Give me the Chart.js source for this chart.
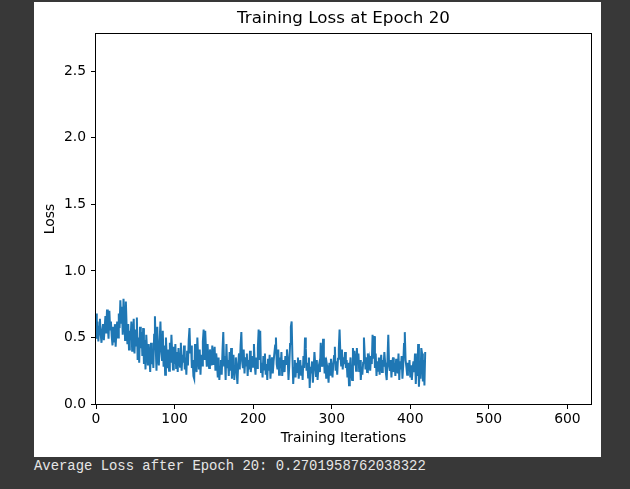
<!DOCTYPE html>
<html>
<head>
<meta charset="utf-8">
<script src="https://cdn.jsdelivr.net/npm/chart.js@4/dist/chart.umd.min.js"></script>
<style>
    body { margin: 0; background: #383838; width: 630px; height: 489px; overflow: hidden; position: relative; }
    #card { position: absolute; left: 34px; top: 2px; width: 567px; height: 455px; background: #fff; }
    #out { position: absolute; left: 34px; top: 458px; margin: 0; font-family: "Liberation Mono", monospace; font-size: 13.9px; line-height: 16px; color: #e6e6e6; white-space: pre; }
</style>
</head>
<body>
<div id="card"><canvas id="loss" width="567" height="455"></canvas></div>
<pre id="out"></pre>
<script>
var chartTitle = 'Training Loss at Epoch 20';
var xTitle = 'Training Iterations';
var yTitle = 'Loss';
var outputLine = 'Average Loss after Epoch 20: 0.2701958762038322';
var xMax = 630;
var yMax = 2.78;
var xStep = 100;
var yStep = 0.5;

// loss per iteration (iterations 0..419)
var lossValues = [
    0.68,0.49,0.62,0.47,0.58,0.64,0.52,0.46,0.55,0.60,0.48,0.57,0.66,0.53,0.71,0.58,0.49,0.70,0.56,0.62,
    0.51,0.44,0.58,0.47,0.60,0.43,0.55,0.62,0.50,0.68,0.57,0.78,0.61,0.73,0.52,0.79,0.66,0.48,0.77,0.58,
    0.45,0.60,0.41,0.55,0.48,0.62,0.40,0.51,0.64,0.38,0.56,0.44,0.65,0.33,0.50,0.31,0.58,0.42,0.54,0.36,
    0.57,0.30,0.48,0.26,0.52,0.40,0.29,0.45,0.35,0.24,0.46,0.30,0.38,0.27,0.52,0.66,0.43,0.25,0.58,0.35,
    0.29,0.47,0.62,0.40,0.33,0.55,0.28,0.44,0.22,0.50,0.36,0.27,0.41,0.25,0.46,0.31,0.52,0.38,0.26,0.43,
    0.30,0.45,0.27,0.39,0.24,0.42,0.33,0.28,0.46,0.25,0.37,0.31,0.44,0.26,0.35,0.22,0.40,0.29,0.48,0.57,
    0.38,0.44,0.27,0.33,0.21,0.19,0.45,0.30,0.24,0.50,0.35,0.26,0.41,0.22,0.37,0.29,0.47,0.56,0.33,0.55,
    0.40,0.28,0.45,0.32,0.27,0.41,0.35,0.29,0.44,0.30,0.36,0.43,0.25,0.38,0.31,0.20,0.35,0.18,0.28,0.33,
    0.22,0.40,0.54,0.29,0.36,0.18,0.45,0.27,0.33,0.21,0.39,0.25,0.42,0.19,0.31,0.37,0.18,0.28,0.35,0.24,
    0.15,0.30,0.38,0.26,0.44,0.54,0.32,0.27,0.41,0.23,0.35,0.29,0.38,0.21,0.33,0.26,0.40,0.24,0.31,0.36,
    0.28,0.45,0.30,0.22,0.35,0.27,0.42,0.56,0.33,0.55,0.24,0.31,0.20,0.36,0.26,0.38,0.22,0.30,0.18,0.34,
    0.25,0.37,0.19,0.29,0.35,0.23,0.32,0.38,0.44,0.50,0.30,0.26,0.41,0.22,0.35,0.27,0.39,0.21,0.33,0.28,
    0.24,0.36,0.30,0.41,0.34,0.18,0.29,0.45,0.58,0.62,0.35,0.15,0.27,0.33,0.20,0.31,0.24,0.35,0.19,0.28,
    0.33,0.22,0.29,0.18,0.36,0.27,0.50,0.42,0.25,0.31,0.20,0.35,0.12,0.28,0.23,0.32,0.16,0.26,0.39,0.30,
    0.21,0.33,0.18,0.27,0.30,0.24,0.46,0.32,0.28,0.49,0.36,0.23,0.35,0.19,0.29,0.25,0.16,0.31,0.22,0.34,
    0.27,0.20,0.30,0.36,0.43,0.25,0.32,0.22,0.34,0.41,0.56,0.38,0.29,0.41,0.26,0.35,0.30,0.39,0.27,0.33,
    0.20,0.31,0.14,0.27,0.35,0.22,0.18,0.42,0.29,0.40,0.34,0.25,0.42,0.31,0.38,0.24,0.33,0.18,0.28,0.22,
    0.31,0.50,0.37,0.26,0.35,0.24,0.38,0.29,0.33,0.25,0.36,0.30,0.52,0.34,0.51,0.27,0.38,0.21,0.32,0.25,
    0.35,0.22,0.30,0.37,0.24,0.33,0.28,0.39,0.31,0.23,0.18,0.34,0.52,0.29,0.25,0.33,0.20,0.30,0.35,0.24,
    0.31,0.21,0.34,0.27,0.23,0.38,0.18,0.32,0.26,0.36,0.19,0.29,0.45,0.54,0.33,0.28,0.22,0.31,0.25,0.33,
    0.20,0.29,0.18,0.27,0.32,0.24,0.38,0.15,0.30,0.21,0.45,0.13,0.26,0.19,0.42,0.38,0.17,0.33,0.14,0.39
];

document.getElementById('out').textContent = outputLine;

Chart.defaults.font.family = '"DejaVu Sans", sans-serif';
Chart.defaults.color = '#000';

// matplotlib style box around the axes
var frame = {
    id: 'frame',
    afterDraw: function(chart) {
        var a = chart.chartArea;
        var ctx = chart.ctx;
        ctx.save();
        ctx.strokeStyle = '#000';
        ctx.lineWidth = 1;
        ctx.strokeRect(Math.round(a.left) - 0.5, Math.round(a.top) - 0.5, Math.round(a.right - a.left) + 1, Math.round(a.bottom - a.top) + 1);
        ctx.restore();
    }
};

function lossChart(id) {
    var ctx = document.getElementById(id).getContext('2d');
    var points = lossValues.map(function(v, i) { return { x: i, y: v }; });
    return new Chart(ctx, {
        type: 'line',
        data: {
            datasets: [{
                label: 'loss',
                data: points,
                borderColor: '#1f77b4',
                borderWidth: 2,
                pointRadius: 0,
                tension: 0,
                fill: false
            }]
        },
        options: {
            responsive: false,
            animation: false,
            layout: { padding: { right: 10 } },
            plugins: {
                legend: { display: false },
                tooltip: { enabled: false },
                title: {
                    display: true,
                    fullSize: false,
                    text: chartTitle,
                    color: '#000',
                    font: { size: 16.7, weight: 'normal' },
                    padding: { top: 7, bottom: 5 }
                }
            },
            scales: {
                x: {
                    type: 'linear',
                    min: 0,
                    max: xMax,
                    afterFit: function(s) { s.height = 53; },
                    grid: { drawOnChartArea: false, tickLength: 5, color: '#000' },
                    border: { display: false },
                    ticks: { stepSize: xStep, includeBounds: false, padding: 2, font: { size: 13.9 }, maxRotation: 0 },
                    title: { display: true, text: xTitle, font: { size: 13.9 }, padding: { top: 0, bottom: 10 } }
                },
                y: {
                    min: 0,
                    max: yMax,
                    afterFit: function(s) { s.width = 62; },
                    grid: { drawOnChartArea: false, tickLength: 5, color: '#000' },
                    border: { display: false },
                    ticks: {
                        stepSize: yStep,
                        includeBounds: false,
                        padding: 5,
                        font: { size: 13.9 },
                        callback: function(v) { return v.toFixed(1); }
                    },
                    title: { display: true, text: yTitle, font: { size: 13.9 }, padding: { top: 8, bottom: 0 } }
                }
            }
        },
        plugins: [frame]
    });
}

var chart1 = lossChart('loss');
</script>
</body>
</html>
